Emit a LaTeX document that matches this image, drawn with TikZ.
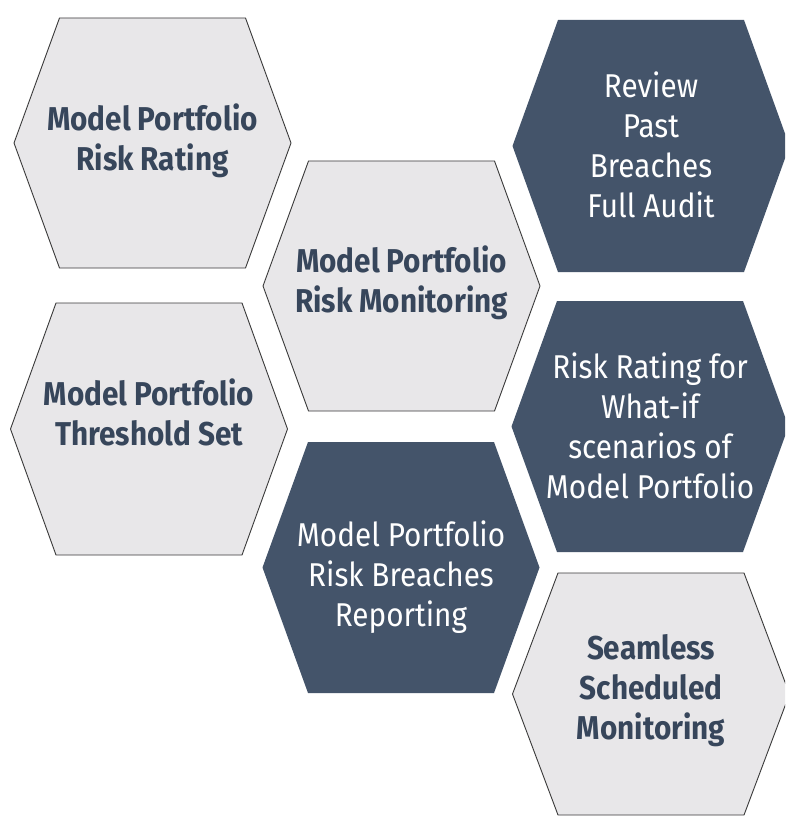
\documentclass[tikz,border=0pt]{standalone}
\usepackage{fontspec}
\setmainfont{Fira Sans}[FakeStretch=0.9]
\definecolor{hexgray}{HTML}{E8E7E9}
\definecolor{edgegray}{HTML}{3A3A3A}
\definecolor{slate}{HTML}{44546A}
\definecolor{ink}{HTML}{37465B}
% hexagon: style, centre x, centre y, half height
\newcommand\hexcell[4]{%
  \path[#1] (#2,#3) ++(-138.5,0) -- ++(45.5,-#4) -- ++(186,0)
    -- ++(45.5,#4) -- ++(-45.5,#4) -- ++(-186,0) -- cycle;}
\begin{document}
\begin{tikzpicture}[x=1pt,y=-1pt,
  hexlight/.style={fill=hexgray,draw=edgegray,line width=0.9pt,line join=miter},
  hexdark/.style={fill=slate},
  lighttext/.style={inner sep=0pt,align=center,text=ink,
    font=\bfseries\fontsize{33}{40}\selectfont},
  darktext/.style={inner sep=0pt,align=center,text=white,
    font=\fontsize{33}{40}\selectfont}]
\clip (0,0) rectangle (785,818);
\fill[white] (0,0) rectangle (785,818);

\hexcell{hexlight}{152.5}{143}{125}
\hexcell{hexlight}{401.5}{286}{125}
\hexcell{hexdark}{651}{146}{126}
\hexcell{hexlight}{149}{429}{126}
\hexcell{hexdark}{401}{567.5}{125.5}
\hexcell{hexdark}{650}{426.5}{125.5}
\hexcell{hexlight}{651}{694}{121}

\node[lighttext] (rating)     at (152.5,141) {Model Portfolio\\Risk Rating};
\node[lighttext] (monitoring) at (401.5,283) {Model Portfolio\\Risk Monitoring};
\node[darktext]  (audit)      at (651,145)   {Review\\Past\\Breaches\\Full Audit};
\node[lighttext] (threshold)  at (149,412)   {Model Portfolio\\Threshold Set};
\node[darktext]  (breaches)   at (401,577)   {Model Portfolio\\Risk Breaches\\Reporting};
\node[darktext]  (whatif)     at (650,426)   {Risk Rating for\\What-if\\scenarios of\\Model Portfolio};
\node[lighttext] (seamless)   at (651,691)   {Seamless\\Scheduled\\Monitoring};
\end{tikzpicture}
\end{document}
